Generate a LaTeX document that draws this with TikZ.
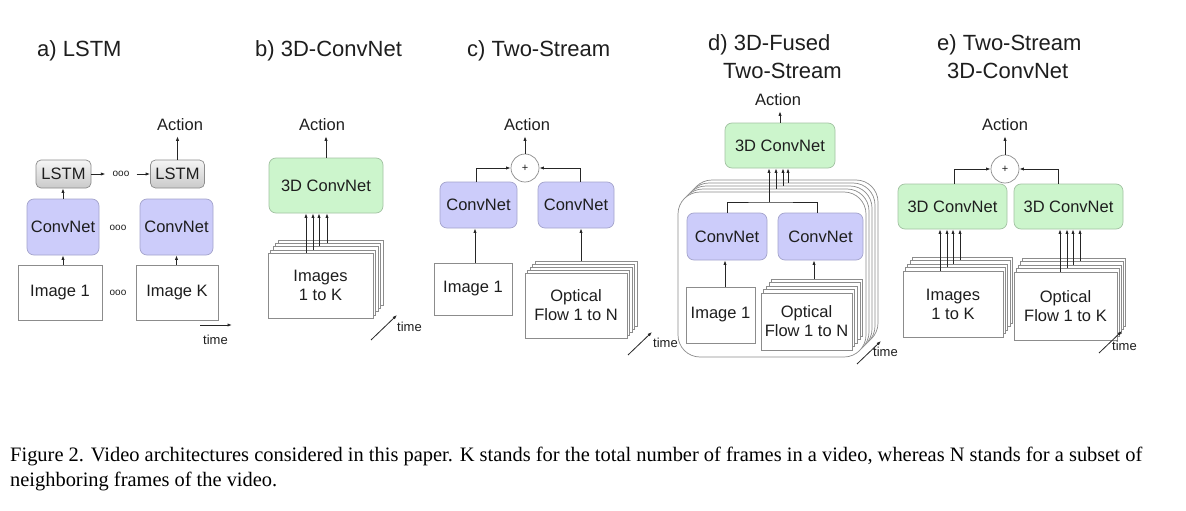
\documentclass[tikz,border=0pt]{standalone}
\usepackage{fontspec}
\setmainfont{Liberation Sans}
\newfontfamily\capfont{Liberation Serif}
\usetikzlibrary{arrows.meta,calc}

\definecolor{cnnfill}{HTML}{CCCCFA}
\definecolor{cnnline}{HTML}{A4A4CC}
\definecolor{tdfill}{HTML}{CCF5CC}
\definecolor{tdline}{HTML}{A2C2A2}
\definecolor{boxline}{HTML}{8C8C8C}
\definecolor{txt}{HTML}{1E1E1E}

\begin{document}
\begin{tikzpicture}[x=1pt,y=-1pt,
  every node/.style={text=txt, inner sep=0pt},
  lbl/.style={font=\fontsize{16.5}{19}\selectfont},
  ttl/.style={font=\fontsize{22}{26}\selectfont, anchor=base west},
  tinylbl/.style={font=\fontsize{13}{15}\selectfont, anchor=west},
  dots/.style={font=\fontsize{10}{12}\selectfont, inner xsep=7pt},
  actlbl/.style={lbl, inner sep=5pt},
  cnn/.style={lbl, draw=cnnline, fill=cnnfill, rounded corners=7pt, line width=0.7pt},
  td/.style={lbl, draw=tdline, fill=tdfill, rounded corners=7pt, line width=0.7pt},
  lstmbox/.style={lbl, draw=boxline, rounded corners=5pt, top color=gray!8, bottom color=gray!42, line width=0.7pt},
  imgbox/.style={lbl, draw=boxline, fill=white, line width=0.7pt, align=center},
  bigbox/.style={draw=boxline, fill=white, rounded corners=22pt, line width=0.7pt, minimum width=188pt, minimum height=165pt},
  flow/.style={-{Latex[length=4.5pt,width=3.2pt]}, line width=0.8pt, draw=black!85},
  wire/.style={line width=0.8pt, draw=black!85},
  sumnode/.style={circle, draw=boxline, fill=white, minimum size=28pt, font=\fontsize{11}{12}\selectfont, line width=0.7pt},
]
\fill[white] (0,0) rectangle (1186,511);
\useasboundingbox (0,0) rectangle (1186,511);

% ---------------- a) LSTM ----------------
\node[ttl] (ta) at (37,57) {a) LSTM};
\node[actlbl] (aa) at (180,125) {Action};
\node[lstmbox, minimum width=55pt, minimum height=28pt] (la1) at (63.5,174) {LSTM};
\node[lstmbox, minimum width=54pt, minimum height=28pt] (la2) at (177.5,174) {LSTM};
\node[dots] (dl) at (121,174) {ooo};
\node[cnn, minimum width=72pt, minimum height=56pt] (ca1) at (63,227) {ConvNet};
\node[cnn, minimum width=73pt, minimum height=56pt] (ca2) at (176.5,227) {ConvNet};
\node[dots] (dc) at (118,228) {ooo};
\node[imgbox, minimum width=84pt, minimum height=55pt] (ia1) at (60,292.5) {Image 1};
\node[imgbox, minimum width=82pt, minimum height=55pt] (ia2) at (177,292.5) {Image K};
\node[dots] (di) at (118,293) {ooo};
\draw[flow] (la1) -- (dl);
\draw[flow] (dl) -- (la2);
\draw[flow] (ca1.south |- ia1.north) -- (ca1.south);
\draw[flow] (ca2.south |- ia2.north) -- (ca2.south);
\draw[flow] (ca1.north) -- (la1.south -| ca1.north);
\draw[flow] (la2.north) -- (la2.north |- aa.south);
\coordinate (tma0) at (200,325);
\coordinate (tma1) at (232,325);
\draw[flow] (tma0) -- (tma1);
\node[tinylbl] (tma) at (203,340) {time};

% ---------------- b) 3D-ConvNet ----------------
\node[ttl] (tb) at (255,57) {b) 3D-ConvNet};
\node[actlbl] (ab) at (322,125) {Action};
\node[td, minimum width=114pt, minimum height=55pt] (tdb) at (326,185.5) {3D ConvNet};
\foreach \k in {4,3,2,1}
  \node[imgbox, minimum width=105pt, minimum height=65pt] (sb\k) at ($(320.5,285.5)+\k*(2.6,-3.1)$) {};
\node[imgbox, minimum width=105pt, minimum height=65pt] (sb0) at (320.5,285.5) {Images\\1 to K};
\foreach \x/\k in {306/0,313/1,319/2,327/3}
  \draw[flow] (sb\k.north -| \x,0) -- (tdb.south -| \x,0);
\draw[flow] (tdb.north) -- (tdb.north |- ab.south);
\coordinate (tmb0) at (371,340);
\coordinate (tmb1) at (397,315);
\draw[flow] (tmb0) -- (tmb1);
\node[tinylbl] (tmb) at (397,327) {time};

% ---------------- c) Two-Stream ----------------
\node[ttl] (tc) at (467,57) {c) Two-Stream};
\node[actlbl] (ac) at (527,125) {Action};
\node[sumnode] (pc) at (525,168) {+};
\node[cnn, minimum width=77pt, minimum height=46pt] (cl) at (478.5,205) {ConvNet};
\node[cnn, minimum width=76pt, minimum height=46pt] (cr) at (576,205) {ConvNet};
\node[imgbox, minimum width=78pt, minimum height=52pt] (ic) at (473,289) {Image 1};
\foreach \k in {4,3,2,1}
  \node[imgbox, minimum width=102pt, minimum height=65pt] (sc\k) at ($(576,305.5)+\k*(2.5,-2.8)$) {};
\node[imgbox, minimum width=102pt, minimum height=65pt] (sc0) at (576,305.5) {Optical\\Flow 1 to N};
\draw[flow] ([xshift=-2pt]cl.north) |- (pc.west);
\draw[flow] ([xshift=4pt]cr.north) |- (pc.east);
\draw[flow] (pc.north) -- (pc.north |- ac.south);
\draw[flow] (ic.north -| 475,0) -- (cl.south -| 475,0);
\draw[flow] (sc4.north -| 581,0) -- (cr.south -| 581,0);
\coordinate (tmc0) at (628,355);
\coordinate (tmc1) at (652,332);
\draw[flow] (tmc0) -- (tmc1);
\node[tinylbl] (tmc) at (653,343) {time};

% ---------------- d) 3D-Fused Two-Stream ----------------
\node[ttl] (td1) at (708,51) {d) 3D-Fused};
\node[ttl] (td2) at (723,78) {Two-Stream};
\node[actlbl] (ad) at (778,100) {Action};
\node[td, minimum width=110pt, minimum height=45pt] (tdd) at (780,145.5) {3D ConvNet};
\foreach \k in {4,3,2,1}
  \node[bigbox] (bd\k) at ($(772,274.5)+\k*(3,-3)$) {};
\node[bigbox] (bd0) at (772,274.5) {};
\node[cnn, minimum width=80pt, minimum height=47pt] (cdl) at (727,236.5) {ConvNet};
\node[cnn, minimum width=85pt, minimum height=47pt] (cdr) at (820.5,236.5) {ConvNet};
\node[imgbox, minimum width=69pt, minimum height=56pt] (id) at (720.5,315) {Image 1};
\foreach \k in {4,3,2,1}
  \node[imgbox, minimum width=91pt, minimum height=57pt] (sd\k) at ($(806.5,321.5)+\k*(2.7,-3.5)$) {};
\node[imgbox, minimum width=91pt, minimum height=57pt] (sd0) at (806.5,321.5) {Optical\\Flow 1 to N};
\coordinate (bar) at (769,202);
\draw[wire] (cdl.north) |- (bar) -| ([xshift=-3pt]cdr.north);
\draw[flow] (bar) -- (tdd.south -| bar);
\foreach \x/\k in {776/1,783/2,788/3}
  \draw[flow] (bd\k.north -| \x,0) -- (tdd.south -| \x,0);
\draw[flow] (tdd.north) -- (tdd.north |- ad.south);
\draw[flow] (id.north -| 725,0) -- (cdl.south -| 725,0);
\draw[flow] (sd4.north -| 814,0) -- (cdr.south -| 814,0);
\coordinate (tmd0) at (857,364);
\coordinate (tmd1) at (881,341);
\draw[flow] (tmd0) -- (tmd1);
\node[tinylbl] (tmd) at (873,352) {time};

% ---------------- e) Two-Stream 3D-ConvNet ----------------
\node[ttl] (te1) at (937,51) {e) Two-Stream};
\node[ttl] (te2) at (947,78) {3D-ConvNet};
\node[actlbl] (ae) at (1005,125) {Action};
\node[sumnode] (pe) at (1005,169) {+};
\node[td, minimum width=109pt, minimum height=45pt] (tel) at (952.5,206.5) {3D ConvNet};
\node[td, minimum width=109pt, minimum height=45pt] (ter) at (1068.5,206.5) {3D ConvNet};
\foreach \k in {4,3,2,1}
  \node[imgbox, minimum width=100pt, minimum height=66pt] (sel\k) at ($(953,304)+\k*(2.3,-3.5)$) {};
\node[imgbox, minimum width=100pt, minimum height=66pt] (sel0) at (953,304) {Images\\1 to K};
\foreach \k in {4,3,2,1}
  \node[imgbox, minimum width=103pt, minimum height=68pt] (ser\k) at ($(1065.5,306)+\k*(2.1,-3.5)$) {};
\node[imgbox, minimum width=103pt, minimum height=68pt] (ser0) at (1065.5,306) {Optical\\Flow 1 to K};
\draw[flow] ([xshift=1.5pt]tel.north) |- (pe.west);
\draw[flow] ([xshift=-10pt]ter.north) |- (pe.east);
\draw[flow] (pe.north) -- (pe.north |- ae.south);
\foreach \x/\k in {940/0,947/1,953/2,960/3}
  \draw[flow] (sel\k.north -| \x,0) -- (tel.south -| \x,0);
\foreach \x/\k in {1060/0,1067/1,1073/2,1080/3}
  \draw[flow] (ser\k.north -| \x,0) -- (ter.south -| \x,0);
\coordinate (tme0) at (1099,353);
\coordinate (tme1) at (1122,331);
\draw[flow] (tme0) -- (tme1);
\node[tinylbl] (tme) at (1112,346) {time};

% ---------------- caption ----------------
\node[anchor=base west, text=black, font=\capfont\fontsize{20.5}{24}\selectfont] (cap1) at (10,461)
  {\resizebox{1132pt}{\height}{Figure 2. Video architectures considered in this paper. K stands for the total number of frames in a video, whereas N stands for a subset of}};
\node[anchor=base west, text=black, font=\capfont\fontsize{20.5}{24}\selectfont] (cap2) at (10,486)
  {\resizebox{267pt}{\height}{neighboring frames of the video.}};
\end{tikzpicture}
\end{document}
